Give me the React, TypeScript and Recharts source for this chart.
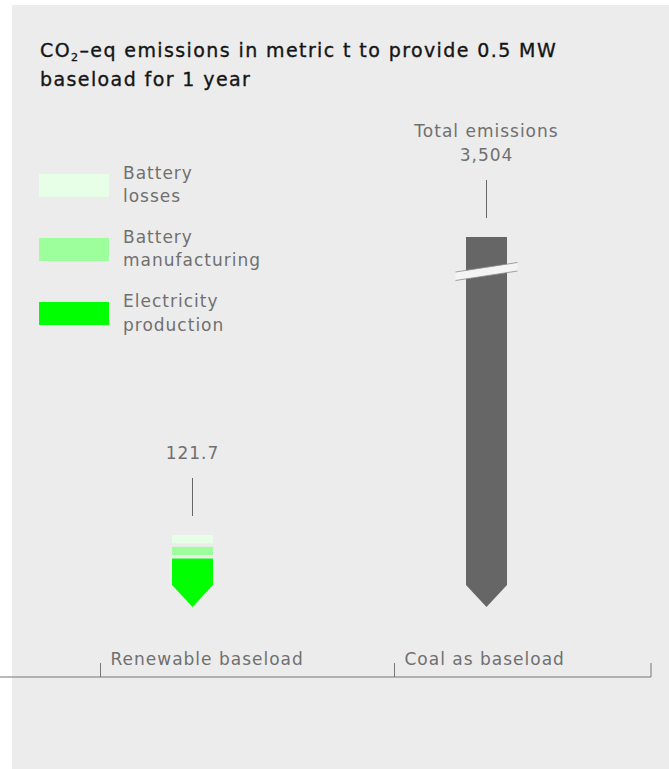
import { BarChart, Bar, XAxis, YAxis, LabelList } from "recharts";

const CATEGORIES = ["Renewable baseload", "Coal as baseload"];
const ELECTRICITY_PRODUCTION = [82.1, 0];
const BATTERY_MANUFACTURING = [19.6, 0];
const BATTERY_LOSSES = [20.0, 0];
const COAL = [0, 3504];
const TOTAL_CAPTIONS = ["", "Total emissions"];

const TOTALS = CATEGORIES.map(
  (_, i) => ELECTRICITY_PRODUCTION[i] + BATTERY_MANUFACTURING[i] + BATTERY_LOSSES[i] + COAL[i]
);

const data = CATEGORIES.map((name, i) => ({
  name,
  electricity: ELECTRICITY_PRODUCTION[i],
  manufacturing: BATTERY_MANUFACTURING[i],
  losses: BATTERY_LOSSES[i],
  coal: COAL[i],
}));

const LEGEND = [
  { label: ["Battery", "losses"], color: "#e6ffe6" },
  { label: ["Battery", "manufacturing"], color: "#9cff9c" },
  { label: ["Electricity", "production"], color: "#00ff00" },
];

const WIDTH = 669;
const HEIGHT = 769;
const MARGIN = { top: 237, right: 18, bottom: 62, left: 0 };
const PLOT_TOP = MARGIN.top;
const PLOT_RIGHT = WIDTH - MARGIN.right;
// zero sits 70px above the axis line; the coal bar runs past the top and gets a break mark
const Y_DOMAIN = [-118.3, 625.4];

const GREY = "#707070";
const LABEL_FONT = "'DejaVu Sans', sans-serif";
const TIP = 22;
const GAP = 3.5;

const fmt = new Intl.NumberFormat("en-US", { maximumFractionDigits: 1 });

function Segment(props: any) {
  const { x, y, width, height, fill, pointed, gap, broken } = props;
  if (!(height > 0.5)) return null;
  const top = Math.max(y, PLOT_TOP);
  const bottom = y + height;
  if (pointed) {
    const cx = x + width / 2;
    const d = `M${x},${top} H${x + width} V${bottom - TIP} L${cx},${bottom} L${x},${bottom - TIP} Z`;
    const by = top + 35;
    return (
      <g>
        <path d={d} fill={fill} />
        {broken && (
          <g>
            <polygon
              points={`${cx - 31},${by} ${cx + 31},${by - 9.5} ${cx + 31},${by - 1} ${cx - 31},${by + 8.5}`}
              fill="#f4f4f4"
            />
            <line x1={cx - 31} y1={by} x2={cx + 31} y2={by - 9.5} stroke="#8a8a8a" strokeWidth={0.8} />
            <line x1={cx - 31} y1={by + 8.5} x2={cx + 31} y2={by - 1} stroke="#8a8a8a" strokeWidth={0.8} />
          </g>
        )}
      </g>
    );
  }
  return <rect x={x} y={top} width={width} height={Math.max(bottom - top - (gap ?? 0), 0)} fill={fill} />;
}

function TotalLabel(props: any) {
  const vb = props.viewBox ?? props;
  const { x, y, width, height } = vb;
  const i = props.index;
  if (!(height > 0.5) || i == null) return null;
  const cx = x + width / 2;
  const top = Math.max(y, PLOT_TOP);
  const caption = TOTAL_CAPTIONS[i];
  const textProps = {
    x: cx,
    textAnchor: "middle" as const,
    fill: GREY,
    fontSize: 17,
    fontFamily: LABEL_FONT,
    letterSpacing: 1,
  };
  return (
    <g>
      <line x1={cx} x2={cx} y1={top - 57} y2={top - 19} stroke="#666" strokeWidth={1} />
      <text {...textProps} y={top - 76}>
        {fmt.format(TOTALS[i])}
      </text>
      {caption && (
        <text {...textProps} y={top - 100}>
          {caption}
        </text>
      )}
    </g>
  );
}

function CategoryTick(props: any) {
  const { x, y, payload, index } = props;
  const tx = x - 91.5;
  return (
    <g>
      <line x1={tx} x2={tx} y1={y - 14} y2={y} stroke="#777" strokeWidth={1} />
      <text x={tx + 10} y={y - 12} fill={GREY} fontSize={17} fontFamily={LABEL_FONT} letterSpacing={1}>
        {payload.value}
      </text>
      {index === CATEGORIES.length - 1 && (
        <line x1={PLOT_RIGHT} x2={PLOT_RIGHT} y1={y - 14} y2={y} stroke="#777" strokeWidth={1} />
      )}
    </g>
  );
}

export default function App() {
  return (
    <div style={{ position: "absolute", left: 0, top: 0, width: WIDTH, height: HEIGHT, background: "#fff" }}>
      <div style={{ position: "absolute", left: 12, top: 5, right: 0, bottom: 0, background: "#ececec" }} />

      <div style={{ position: "absolute", left: 0, top: 0 }}>
        <BarChart width={WIDTH} height={HEIGHT} data={data} margin={MARGIN} barSize={41}>
          <XAxis
            dataKey="name"
            height={30}
            padding={{ left: 45, right: 18 }}
            axisLine={{ stroke: "#777", strokeWidth: 1 }}
            tickLine={false}
            tickSize={0}
            tickMargin={0}
            tick={<CategoryTick />}
            interval={0}
          />
          <YAxis type="number" hide domain={Y_DOMAIN} allowDataOverflow />
          <Bar
            dataKey="electricity"
            stackId="a"
            fill="#00ff00"
            isAnimationActive={false}
            shape={(p: any) => <Segment {...p} pointed />}
          />
          <Bar
            dataKey="manufacturing"
            stackId="a"
            fill="#9cff9c"
            isAnimationActive={false}
            shape={(p: any) => <Segment {...p} gap={GAP} />}
          />
          <Bar
            dataKey="losses"
            stackId="a"
            fill="#e6ffe6"
            isAnimationActive={false}
            shape={(p: any) => <Segment {...p} gap={GAP} />}
          >
            <LabelList content={(p: any) => <TotalLabel {...p} />} />
          </Bar>
          <Bar
            dataKey="coal"
            stackId="a"
            fill="#666666"
            isAnimationActive={false}
            shape={(p: any) => <Segment {...p} pointed broken />}
          >
            <LabelList content={(p: any) => <TotalLabel {...p} />} />
          </Bar>
        </BarChart>
      </div>

      <div
        style={{
          position: "absolute",
          left: 40,
          top: 36,
          width: 600,
          fontFamily: "'DejaVu Sans', sans-serif",
          fontSize: 19,
          lineHeight: "28.5px",
          letterSpacing: 1.4,
          color: "#151515",
          WebkitTextStroke: "0.35px #151515",
        }}
      >
        CO<span style={{ fontSize: 11, verticalAlign: -4, lineHeight: 0 }}>2</span>–eq emissions in metric t to provide 0.5 MW
        <br />
        baseload for 1 year
      </div>

      {LEGEND.map((item, i) => (
        <div key={i} style={{ position: "absolute", left: 39, top: 161.5 + i * 64.3, height: 47 }}>
          <div
            style={{ position: "absolute", left: 0, top: 12, width: 70, height: 23, background: item.color }}
          />
          <div
            style={{
              position: "absolute",
              left: 84,
              top: 0,
              whiteSpace: "nowrap",
              fontFamily: LABEL_FONT,
              fontSize: 17,
              lineHeight: "23.5px",
              letterSpacing: 1,
              color: GREY,
            }}
          >
            {item.label[0]}
            <br />
            {item.label[1]}
          </div>
        </div>
      ))}
    </div>
  );
}
